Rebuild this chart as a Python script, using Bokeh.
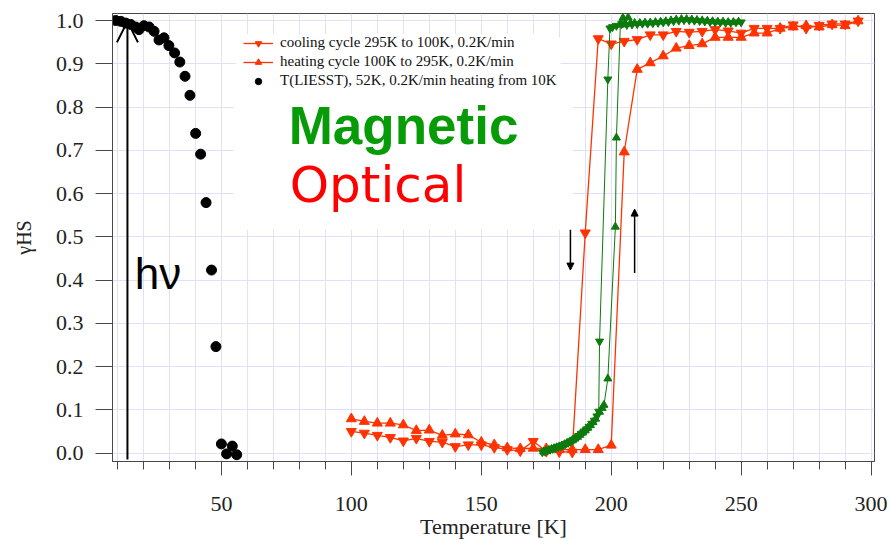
from math import pi
from bokeh.plotting import figure
from bokeh.core.properties import value
from bokeh.models import (Range1d, FixedTicker, PrintfTickFormatter, Label, Arrow,
                          OpenHead, NormalHead, BoxAnnotation)
from bokeh.embed import file_html
from bokeh.resources import INLINE

# ---------------- data ----------------
temp_opt = [100, 105, 110, 115, 120, 125, 130, 135, 140, 145, 150, 155, 160, 165, 170,
            175, 180, 185, 190, 195, 200, 205, 210, 215, 220, 225, 230, 235, 240, 245,
            250, 255, 260, 265, 270, 275, 280, 285, 290, 295]
cool_opt = [0.050, 0.046, 0.041, 0.036, 0.028, 0.034, 0.027, 0.025, 0.015, 0.019,
            0.019, 0.013, 0.008, 0.005, 0.027, 0.004, 0.003, 0.002, 0.509, 0.958,
            0.946, 0.952, 0.956, 0.967, 0.967, 0.975, 0.973, 0.975, 0.979, 0.976,
            0.971, 0.982, 0.982, 0.982, 0.990, 0.982, 0.989, 0.992, 0.992, 0.999]
heat_opt = [0.079, 0.073, 0.069, 0.069, 0.065, 0.052, 0.053, 0.041, 0.044, 0.042,
            0.025, 0.019, 0.012, 0.010, 0.011, 0.010, 0.008, 0.008, 0.008, 0.008,
            0.018, 0.696, 0.887, 0.902, 0.918, 0.936, 0.942, 0.946, 0.961, 0.961,
            0.961, 0.971, 0.971, 0.982, 0.985, 0.988, 0.985, 0.990, 0.988, 0.999]

temp_mag_cool = [173.5, 174.5, 175.5, 176.5, 177.5, 178.5, 179.5, 180.5, 181.5, 182.5,
                 183.5, 184.5, 185.5, 186.5, 187.5, 188.5, 189.5, 190.5, 191.5, 192.5,
                 193.5, 194.5, 195.2, 195.5, 198.7, 199.5, 200.5, 202, 204, 206, 208,
                 210, 212, 214, 216, 218, 220, 222, 224, 226, 228, 230, 232, 234, 236,
                 238, 240, 242, 244, 246, 248, 250]
mag_cool = [0.002, 0.004, 0.006, 0.008, 0.010, 0.012, 0.014, 0.016, 0.018, 0.021,
            0.024, 0.027, 0.031, 0.035, 0.040, 0.045, 0.050, 0.055, 0.061, 0.068,
            0.075, 0.085, 0.096, 0.258, 0.864, 0.982, 0.985, 0.988, 0.992, 0.990,
            0.991, 0.992, 0.993, 0.993, 0.994, 0.995, 0.996, 0.997, 0.999, 1.000,
            1.001, 1.001, 1.000, 0.999, 0.998, 0.997, 0.996, 0.996, 0.995, 0.995,
            0.996, 0.996]
temp_mag_heat = [174.0, 175.0, 176.0, 177.0, 178.0, 179.0, 180.0, 181.0, 182.0, 183.0,
                 184.0, 185.0, 186.0, 187.0, 188.0, 189.0, 190.0, 191.0, 192.0, 193.0,
                 194.0, 195.5, 196.5, 197.2, 198.7, 201.6, 202.0, 203.5, 204.5, 205.5,
                 206.5, 207.5, 209, 211, 213, 215, 217, 219, 221, 223, 225, 227, 229,
                 231, 233, 235, 237, 239, 241, 243, 245, 247, 249]
mag_heat = [0.003, 0.005, 0.007, 0.009, 0.011, 0.013, 0.015, 0.017, 0.020, 0.023,
            0.026, 0.029, 0.033, 0.037, 0.042, 0.047, 0.052, 0.058, 0.064, 0.071,
            0.079, 0.095, 0.104, 0.111, 0.172, 0.523, 0.729, 0.990, 1.006, 0.992,
            1.007, 0.993, 0.994, 0.994, 0.995, 0.995, 0.996, 0.997, 0.998, 1.000,
            1.002, 1.003, 1.003, 1.002, 1.001, 1.000, 0.999, 0.998, 0.997, 0.997,
            0.996, 0.996, 0.997]

temp_liesst = [9.3, 11.3, 13.2, 15.1, 17.0, 18.3, 20.2, 22.2, 24.1, 26.0, 27.9, 29.8,
               32.0, 34.0, 36.0, 37.9, 40.1, 42.0, 44.1, 46.2, 47.9, 50.0, 52.0, 54.2, 55.9]
liesst = [1.000, 0.998, 0.994, 0.991, 0.985, 0.979, 0.988, 0.985, 0.975, 0.955, 0.960,
          0.942, 0.925, 0.904, 0.871, 0.827, 0.739, 0.691, 0.579, 0.423, 0.246, 0.021,
          -0.002, 0.016, -0.004]

x_major = [50, 100, 150, 200, 250, 300]
x_minor = [10, 20, 30, 40, 50, 60, 70, 80, 90, 100, 110, 120, 130, 140, 150, 160, 170,
           180, 190, 200, 210, 220, 230, 240, 250, 260, 270, 280, 290, 300]
y_ticks = [0.0, 0.1, 0.2, 0.3, 0.4, 0.5, 0.6, 0.7, 0.8, 0.9, 1.0]

y_title = "γHS"
lab_cool = "cooling cycle 295K to 100K, 0.2K/min"
lab_heat = "heating cycle 100K to 295K, 0.2K/min"
lab_liesst = "T(LIESST), 52K, 0.2K/min heating from 10K"

RED = "#ff3300"
GREEN = "#0d7a0d"
SERIF = "Liberation Serif"

p = figure(width=890, height=541, output_backend="svg", toolbar_location=None,
           x_range=Range1d(8.1, 301.3), y_range=Range1d(-0.0196, 1.0162),
           min_border_left=112, min_border_right=16, min_border_top=13,
           min_border_bottom=79)
p.background_fill_color = "white"
p.border_fill_color = "white"
p.outline_line_color = "#484848"
p.outline_line_width = 1

p.xgrid.ticker = FixedTicker(ticks=x_minor)
p.ygrid.ticker = FixedTicker(ticks=y_ticks)
p.grid.grid_line_color = "#e0e0f8"
p.grid.grid_line_width = 1

p.xaxis.ticker = FixedTicker(ticks=x_major, minor_ticks=x_minor)
p.yaxis.ticker = FixedTicker(ticks=y_ticks, minor_ticks=[])
p.yaxis.formatter = PrintfTickFormatter(format="%.1f")
for ax in (p.xaxis[0], p.yaxis[0]):
    ax.axis_line_color = "#484848"
    ax.major_tick_line_color = "#484848"
    ax.minor_tick_line_color = "#484848"
    ax.major_tick_in = 0
    ax.minor_tick_in = 0
    ax.major_label_text_font = SERIF
    ax.major_label_text_font_size = "22px"
    ax.major_label_text_color = "#222222"
p.xaxis.major_tick_out = 14
p.xaxis.minor_tick_out = 8
p.xaxis.major_label_standoff = 21
p.yaxis.major_tick_out = 17
p.yaxis.minor_tick_out = 0
p.yaxis.major_label_standoff = 12
p.xaxis.axis_label = "Temperature [K]"
p.xaxis.axis_label_text_font = SERIF
p.xaxis.axis_label_text_font_size = "22px"
p.xaxis.axis_label_text_font_style = "normal"
p.xaxis.axis_label_text_color = "#222222"
p.xaxis.axis_label_standoff = 0
p.yaxis.axis_label = y_title
p.yaxis.axis_label_text_font = SERIF
p.yaxis.axis_label_text_font_size = "20px"
p.yaxis.axis_label_text_font_style = "normal"
p.yaxis.axis_label_text_color = "#222222"
p.yaxis.axis_label_standoff = 18

p.quad(left=[54.8, 55.5], right=[185.1, 180.5], bottom=[0.516, 0.843], top=[0.850, 0.961],
       fill_color="white", line_color=None)

p.line(temp_opt, cool_opt, color=RED, line_width=1.3, legend_label=lab_cool)
p.scatter(temp_opt, cool_opt, marker="inverted_triangle", size=10, color=RED,
          legend_label=lab_cool)
p.line(temp_opt, heat_opt, color=RED, line_width=1.3, legend_label=lab_heat)
p.scatter(temp_opt, heat_opt, marker="triangle", size=10, color=RED,
          legend_label=lab_heat)

p.line(temp_mag_cool, mag_cool, color=GREEN, line_width=1)
p.scatter(temp_mag_cool, mag_cool, marker="inverted_triangle", size=8, color=GREEN)
p.line(temp_mag_heat, mag_heat, color=GREEN, line_width=1)
p.scatter(temp_mag_heat, mag_heat, marker="triangle", size=8, color=GREEN)

p.scatter(temp_liesst, liesst, marker="circle", size=10, color="black",
          legend_label=lab_liesst)

leg = p.legend[0]
leg.location = (131, 372)
leg.padding = 0
leg.margin = 0
leg.spacing = 2
leg.glyph_width = 30
leg.glyph_height = 16
leg.label_height = 16
leg.label_standoff = 7
leg.label_text_font = SERIF
leg.label_text_font_size = "15px"
leg.label_text_color = "#111111"
leg.border_line_color = None
leg.background_fill_color = "white"
leg.background_fill_alpha = 1

p.add_layout(BoxAnnotation(left=54.8, right=185.1, bottom=0.8316, top=0.852,
                           fill_color="white", fill_alpha=1, line_alpha=0,
                           level="overlay"))

p.add_layout(Arrow(end=OpenHead(size=21, line_width=2, line_color="black"),
                   x_start=13.85, y_start=-0.015, x_end=13.85, y_end=0.998,
                   line_width=2, line_color="black"))
p.add_layout(Arrow(end=NormalHead(size=7, fill_color="black", line_color="black"),
                   x_start=184.3, y_start=0.516, x_end=184.3, y_end=0.423,
                   line_width=1.5, line_color="black"))
p.add_layout(Arrow(end=NormalHead(size=7, fill_color="black", line_color="black"),
                   x_start=209.0, y_start=0.416, x_end=209.0, y_end=0.564,
                   line_width=1.5, line_color="black"))

p.add_layout(Label(x=16.7, y=0.4145, text="hν", text_font="Liberation Sans",
                   text_font_size="44px", text_color="black",
                   text_baseline="alphabetic", text_align="left"))
p.add_layout(Label(x=75.9, y=0.758, text="Magnetic", text_font="Liberation Sans",
                   text_font_size="53px", text_font_style="bold", text_color="#079c07",
                   text_baseline="alphabetic", text_align="left"))
p.add_layout(Label(x=76.3, y=0.619, text="Optical", text_font="DejaVu Sans",
                   text_font_size="50px", text_color="#ff0000",
                   text_baseline="alphabetic", text_align="left"))

open("out.html", "w").write(file_html(p, INLINE))
